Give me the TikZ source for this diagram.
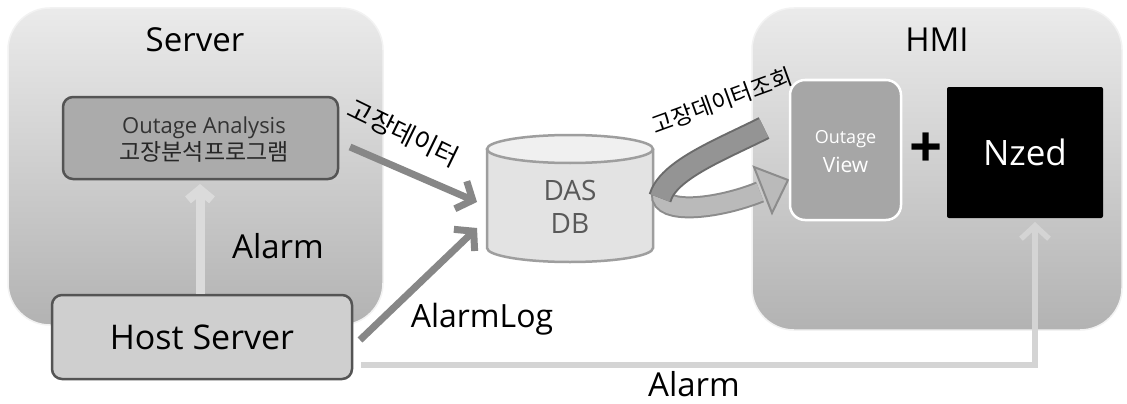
\documentclass[tikz,border=0pt]{standalone}
\usepackage{fontspec}
\setmainfont{Open Sans}
\newfontfamily\kr{Noto Sans CJK KR}
\usetikzlibrary{arrows.meta}
\begin{document}
\begin{tikzpicture}[x=1pt,y=-1pt,
  panel/.style={rounded corners=42pt, top color=black!8, bottom color=black!30, draw=black!5, line width=1.5pt, inner sep=0pt},
  darkbox/.style={rounded corners=10pt, draw=black!67, line width=2.5pt, inner sep=0pt},
  txt/.style={inner sep=0pt, anchor=base},
  big/.style={font=\fontsize{33}{38}\selectfont},
  flow/.style={line width=7pt, draw=black!47, -{Straight Barb[length=13pt,width=30pt]}},
  light/.style={line width=5.5pt, draw=black!17, -{Straight Barb[length=13pt,width=28pt]}}
]
\useasboundingbox (0,0) rectangle (1127,404);
\fill[white] (0,0) rectangle (1127,404);

% panels
\node[panel, minimum width=375pt, minimum height=317pt] (server) at (195.5,166.5) {};
\node[panel, minimum width=370pt, minimum height=322pt] (hmi) at (937,169) {};
\node[txt, big] (servert) at (195,52) {Server};
\node[txt, big] (hmit) at (937,52) {HMI};

% server boxes
\node[darkbox, fill=black!33, minimum width=275pt, minimum height=82pt] (outage) at (200.5,138) {};
\node[txt, font=\fontsize{22}{26}\selectfont, text=black!80] (oa1) at (204,133) {Outage Analysis};
\node[txt, font=\kr\fontsize{23}{26}\selectfont, text=black!85] (oa2) at (204,160) {고장분석프로그램};
\node[darkbox, fill=black!19, minimum width=300pt, minimum height=84pt] (host) at (202,337) {};
\node[txt, font=\fontsize{34}{38}\selectfont] (hostt) at (202,349) {Host Server};

% vertical alarm
\draw[line width=9pt, draw=black!14, -{Straight Barb[length=10pt,width=24pt]}] (host.north -| 200,0) -- (200,184);
\node[txt, big] (alarm1) at (278,258) {Alarm};

% DAS DB cylinder
\node[minimum width=166pt, minimum height=127pt, inner sep=0pt] (db) at (570,198.5) {};
\path[fill=black!11, draw=black!38, line width=2.5pt] (487,149) -- (487,248) arc[start angle=180, end angle=360, x radius=83pt, y radius=14pt] -- (653,149);
\draw[fill=black!6, draw=black!38, line width=2.5pt] (570,149) ellipse [x radius=83pt, y radius=14pt];
\node[txt, font=\fontsize{28}{32}\selectfont, text=black!65] (dast) at (570,200) {DAS};
\node[txt, font=\fontsize{28}{32}\selectfont, text=black!65] (dbt) at (570,233) {DB};

% arrows into DB
\coordinate (a1s) at (350,147);
\coordinate (a1e) at (477,202);
\coordinate (a2s) at (360,340);
\coordinate (a2e) at (477,228);
\draw[flow] (a1s) -- (a1e);
\draw[flow] (a2s) -- (a2e);
\node[font=\kr\fontsize{26}{28}\selectfont, rotate=-26, inner sep=0pt] (lbl1) at (404,133) {고장데이터};
\node[txt, font=\fontsize{32}{36}\selectfont] (alarmlog) at (482,327) {AlarmLog};

% curved block arrow
\draw[line width=22pt, draw=black!45] (662,194) .. controls (660,214) and (715,210) .. (760,192);
\draw[line width=18pt, draw=black!27] (662,194) .. controls (660,214) and (715,210) .. (760,192);
\filldraw[fill=black!27, draw=black!45, line width=2pt, line join=miter] (754,167) -- (788,180) -- (772,213) -- cycle;
\draw[line width=24pt, draw=black!58] (764,128) .. controls (720,150) and (668,170) .. (660,198);
\draw[line width=20pt, draw=black!42] (764,128) .. controls (720,150) and (668,170) .. (660,198);
\node[font=\kr\fontsize{23}{26}\selectfont, rotate=20, inner sep=0pt] (lbl2) at (722,101) {고장데이터조회};

% HMI boxes
\node[rounded corners=15pt, fill=black!35, draw=white, line width=2.5pt, minimum width=111pt, minimum height=140pt, inner sep=0pt] (ov) at (845.5,150) {};
\node[txt, font=\fontsize{18}{20}\selectfont, text=white] (ov1) at (845.5,143) {Outage};
\node[txt, font=\fontsize{21}{24}\selectfont, text=white] (ov2) at (845.5,172) {View};
\node[font=\bfseries\fontsize{58}{60}\selectfont, inner sep=0pt] (plus) at (926,150) {+};
\node[rounded corners=2pt, fill=black, minimum width=156pt, minimum height=131pt, inner sep=0pt] (nzed) at (1025,152.5) {};
\node[txt, font=\fontsize{35}{38}\selectfont, text=white] (nzedt) at (1025,165) {Nzed};

% bottom alarm
\coordinate (b1) at (1035,365);
\draw[light] (host.east |- 0,365) ++(8,0) -- (b1) -- (1035,222);
\node[txt, big] (alarm2) at (694,396) {Alarm};
\end{tikzpicture}
\end{document}
